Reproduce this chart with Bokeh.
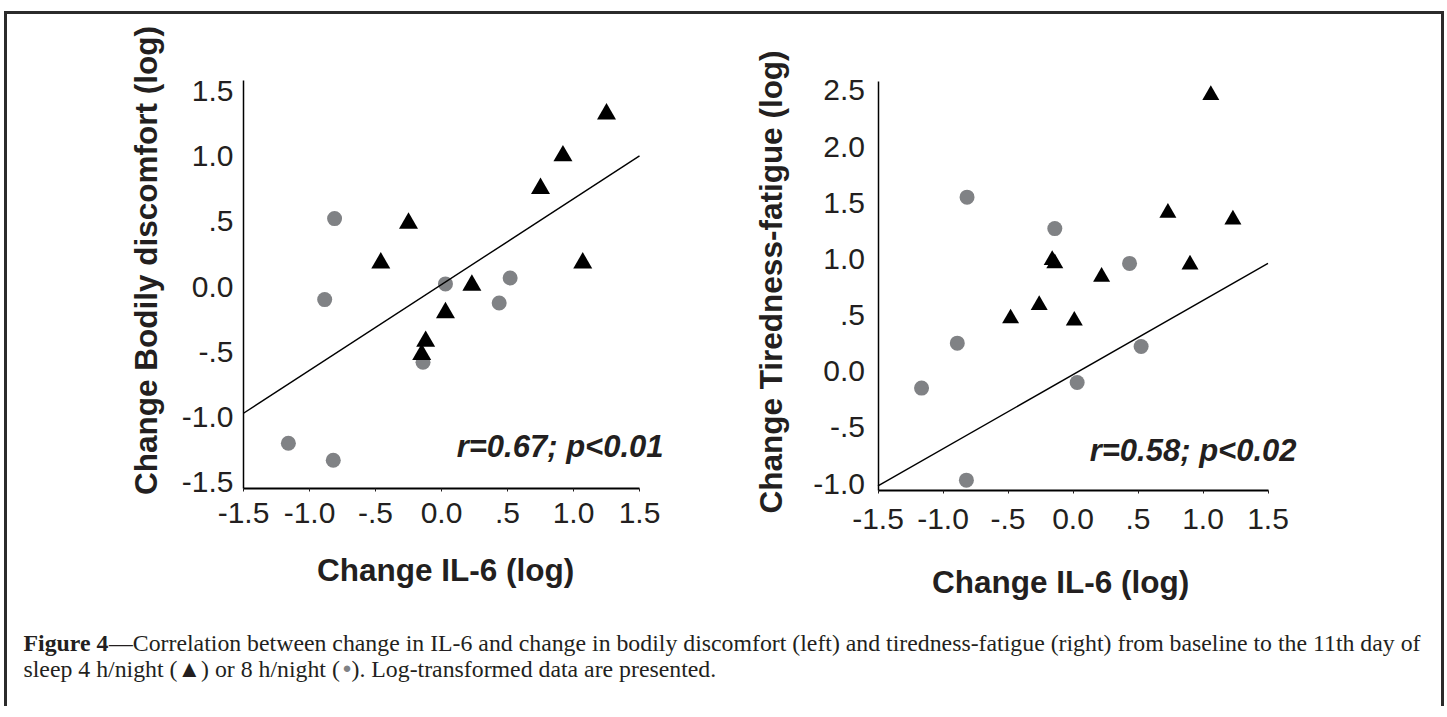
import math
from bokeh.plotting import figure
from bokeh.models import Range1d, FixedTicker, Label
from bokeh.layouts import column, row
from bokeh.embed import file_html
from bokeh.resources import INLINE

# ---------------- data ----------------
# Left panel: change IL-6 (x) vs change bodily discomfort (y), log values
bd_4h_il6 = [1.25, 0.92, 0.75, -0.25, -0.46, 1.07, 0.23, 0.03, -0.12, -0.15]
bd_4h_val = [1.32, 1.00, 0.75, 0.485, 0.18, 0.18, 0.01, -0.20, -0.42, -0.52]
bd_8h_il6 = [-0.81, -0.885, 0.03, 0.52, 0.437, -0.14, -1.16, -0.82]
bd_8h_val = [0.52, -0.10, 0.02, 0.065, -0.126, -0.58, -1.20, -1.33]
bd_fit_x = [-1.5, 1.5]
bd_fit_y = [-0.97, 1.00]
bd_stat = "r=0.67; p<0.01"

# Right panel: change IL-6 (x) vs change tiredness-fatigue (y)
tf_4h_il6 = [1.06, 0.73, 1.23, -0.16, -0.14, 0.90, 0.22, -0.26, -0.48, 0.01]
tf_4h_val = [2.46, 1.41, 1.35, 0.99, 0.96, 0.95, 0.84, 0.59, 0.47, 0.45]
tf_8h_il6 = [-0.815, -0.14, 0.435, -0.89, 0.524, -1.165, 0.032, -0.82]
tf_8h_val = [1.55, 1.27, 0.96, 0.25, 0.22, -0.15, -0.10, -0.97]
tf_fit_x = [-1.5, 1.5]
tf_fit_y = [-1.02, 0.96]
tf_stat = "r=0.58; p<0.02"

x_ticks = [-1.5, -1.0, -0.5, 0.0, 0.5, 1.0, 1.5]
x_tick_labels = ["-1.5", "-1.0", "-.5", "0.0", ".5", "1.0", "1.5"]
bd_y_ticks = [-1.5, -1.0, -0.5, 0.0, 0.5, 1.0, 1.5]
bd_y_tick_labels = ["-1.5", "-1.0", "-.5", "0.0", ".5", "1.0", "1.5"]
tf_y_ticks = [-1.0, -0.5, 0.0, 0.5, 1.0, 1.5, 2.0, 2.5]
tf_y_tick_labels = ["-1.0", "-.5", "0.0", ".5", "1.0", "1.5", "2.0", "2.5"]

x_title = "Change IL-6 (log)"
bd_y_title = "Change Bodily discomfort (log)"
tf_y_title = "Change Tiredness-fatigue (log)"

caption_bold = "Figure 4"
caption_line1 = ("\u2014Correlation between change in IL-6 and change in bodily discomfort (left) "
                 "and tiredness-fatigue (right) from baseline to the 11th day of")
caption_line2a = "sleep 4 h/night (\u25B2) or 8 h/night ("
caption_dot = "\u25CF"
caption_line2b = "). Log-transformed data are presented."

# ---------------- style / layout ----------------
SANS = "Liberation Sans"
SERIF = "Liberation Serif"
TXT = "#231f20"
GRAY = "#808285"
AX_FS = "31.5px"
ROW_H = 602
CAP_H = 90
PAGE_TOP = 14


def panel(W, fig_left, geom, y_axis_rng, y_ticks, y_labels, y_title, x4, y4, x8, y8, fx, fy,
          stat, tri_size, lab_std, pos):
    x0_page, x_ppu, y_ref, y_ref_page, y_ppu = geom

    def to_x(px):
        return -1.5 + (px - x0_page) / x_ppu

    def to_y(py):
        return y_ref - (py - y_ref_page) / y_ppu

    p = figure(width=W, height=ROW_H,
               x_range=Range1d(to_x(fig_left), to_x(fig_left + W)),
               y_range=Range1d(to_y(PAGE_TOP + ROW_H), to_y(PAGE_TOP)),
               output_backend="svg", toolbar_location=None,
               min_border_left=0, min_border_right=0, min_border_top=0, min_border_bottom=0)
    p.outline_line_color = None
    p.grid.visible = False
    p.background_fill_color = "white"
    p.border_fill_color = "white"

    xa = p.xaxis[0]
    xa.fixed_location = y_axis_rng[0]
    xa.bounds = (-1.5, 1.5)
    xa.ticker = FixedTicker(ticks=x_ticks)
    xa.major_label_overrides = {t: l for t, l in zip(x_ticks, x_tick_labels)}
    xa.minor_tick_line_color = None
    xa.major_tick_in = 0
    xa.major_tick_out = 3
    xa.major_tick_line_color = TXT
    xa.axis_line_width = 2
    xa.axis_line_color = "black"
    xa.major_label_text_font = SANS
    xa.major_label_text_font_size = "30px"
    xa.major_label_text_color = TXT
    xa.major_label_standoff = lab_std[0]

    ya = p.yaxis[0]
    ya.fixed_location = -1.5
    ya.bounds = y_axis_rng
    ya.ticker = FixedTicker(ticks=y_ticks)
    ya.major_label_overrides = {t: l for t, l in zip(y_ticks, y_labels)}
    ya.minor_tick_line_color = None
    ya.major_tick_in = 0
    ya.major_tick_out = 0
    ya.axis_line_width = 1.5
    ya.axis_line_color = "black"
    ya.major_label_text_font = SANS
    ya.major_label_text_font_size = "30px"
    ya.major_label_text_color = TXT
    ya.major_label_standoff = lab_std[1]

    p.scatter(x8, y8, marker="circle", size=15, fill_color=GRAY, line_color=None)
    p.line(fx, fy, line_color="black", line_width=1.4)
    p.scatter(x4, y4, marker="triangle", size=tri_size, fill_color="black", line_color=None)

    (ytx, yty), (xtx, xty), (stx, sty) = pos
    p.add_layout(Label(x=to_x(ytx), y=to_y(yty), text=y_title, angle=math.pi / 2,
                       text_align="center", text_baseline="middle", text_font=SANS,
                       text_font_size=AX_FS, text_font_style="bold", text_color=TXT))
    p.add_layout(Label(x=to_x(xtx), y=to_y(xty), text=x_title,
                       text_align="center", text_baseline="middle", text_font=SANS,
                       text_font_size=AX_FS, text_font_style="bold", text_color=TXT))
    p.add_layout(Label(x=to_x(stx), y=to_y(sty), text=stat, text_align="right",
                       text_baseline="middle", text_font=SANS, text_font_size="31px",
                       text_font_style="bold italic", text_color=TXT))
    return p


# geometry: (page x of x=-1.5, px per x unit, y value, its page y, px per y unit)
p1 = panel(717, 7, (243, 132, 1.577, 80, 130.64), (-1.546, 1.577),
           bd_y_ticks, bd_y_tick_labels, bd_y_title,
           bd_4h_il6, bd_4h_val, bd_8h_il6, bd_8h_val, bd_fit_x, bd_fit_y,
           bd_stat, 19, (12, 10), ((145, 260), (445, 569), (663, 446)))
p2 = panel(717, 724, (877.5, 130, 2.58, 81, 112.3), (-1.062, 2.58),
           tf_y_ticks, tf_y_tick_labels, tf_y_title,
           tf_4h_il6, tf_4h_val, tf_8h_il6, tf_8h_val, tf_fit_x, tf_fit_y,
           tf_stat, 17, (16, 13), ((770, 281.5), (1060, 581), (1296, 450)))

# ---------------- caption ----------------
cap = figure(width=1434, height=CAP_H, x_range=Range1d(0, 1434), y_range=Range1d(CAP_H, 0),
             output_backend="svg", toolbar_location=None,
             x_axis_location=None, y_axis_location=None,
             min_border_left=0, min_border_right=0, min_border_top=0, min_border_bottom=0)
cap.outline_line_color = None
cap.grid.visible = False
CAP_FS = "23.8px"
base1 = 642 - PAGE_TOP - ROW_H
base2 = 668 - PAGE_TOP - ROW_H
cap.add_layout(Label(x=16, y=base1, text=caption_bold, text_font=SERIF, text_font_size=CAP_FS,
                     text_font_style="bold", text_color=TXT, text_baseline="alphabetic"))
cap.add_layout(Label(x=101.5, y=base1, text=caption_line1, text_font=SERIF, text_font_size=CAP_FS,
                     text_color=TXT, text_baseline="alphabetic"))
cap.add_layout(Label(x=16, y=base2, text=caption_line2a, text_font=SERIF, text_font_size=CAP_FS,
                     text_color=TXT, text_baseline="alphabetic"))
cap.add_layout(Label(x=335, y=base2 - 1, text=caption_dot, text_font=SERIF, text_font_size="15px",
                     text_color=GRAY, text_baseline="alphabetic"))
cap.add_layout(Label(x=344, y=base2, text=caption_line2b, text_font=SERIF, text_font_size=CAP_FS,
                     text_color=TXT, text_baseline="alphabetic"))

layout = column(row(p1, p2), cap,
                styles={"border-top": "3px solid #2b2b2b", "border-left": "3px solid #2b2b2b",
                        "border-right": "3px solid #2b2b2b", "margin-top": "11px",
                        "margin-left": "4px"})

open("out.html", "w").write(file_html(layout, INLINE))
